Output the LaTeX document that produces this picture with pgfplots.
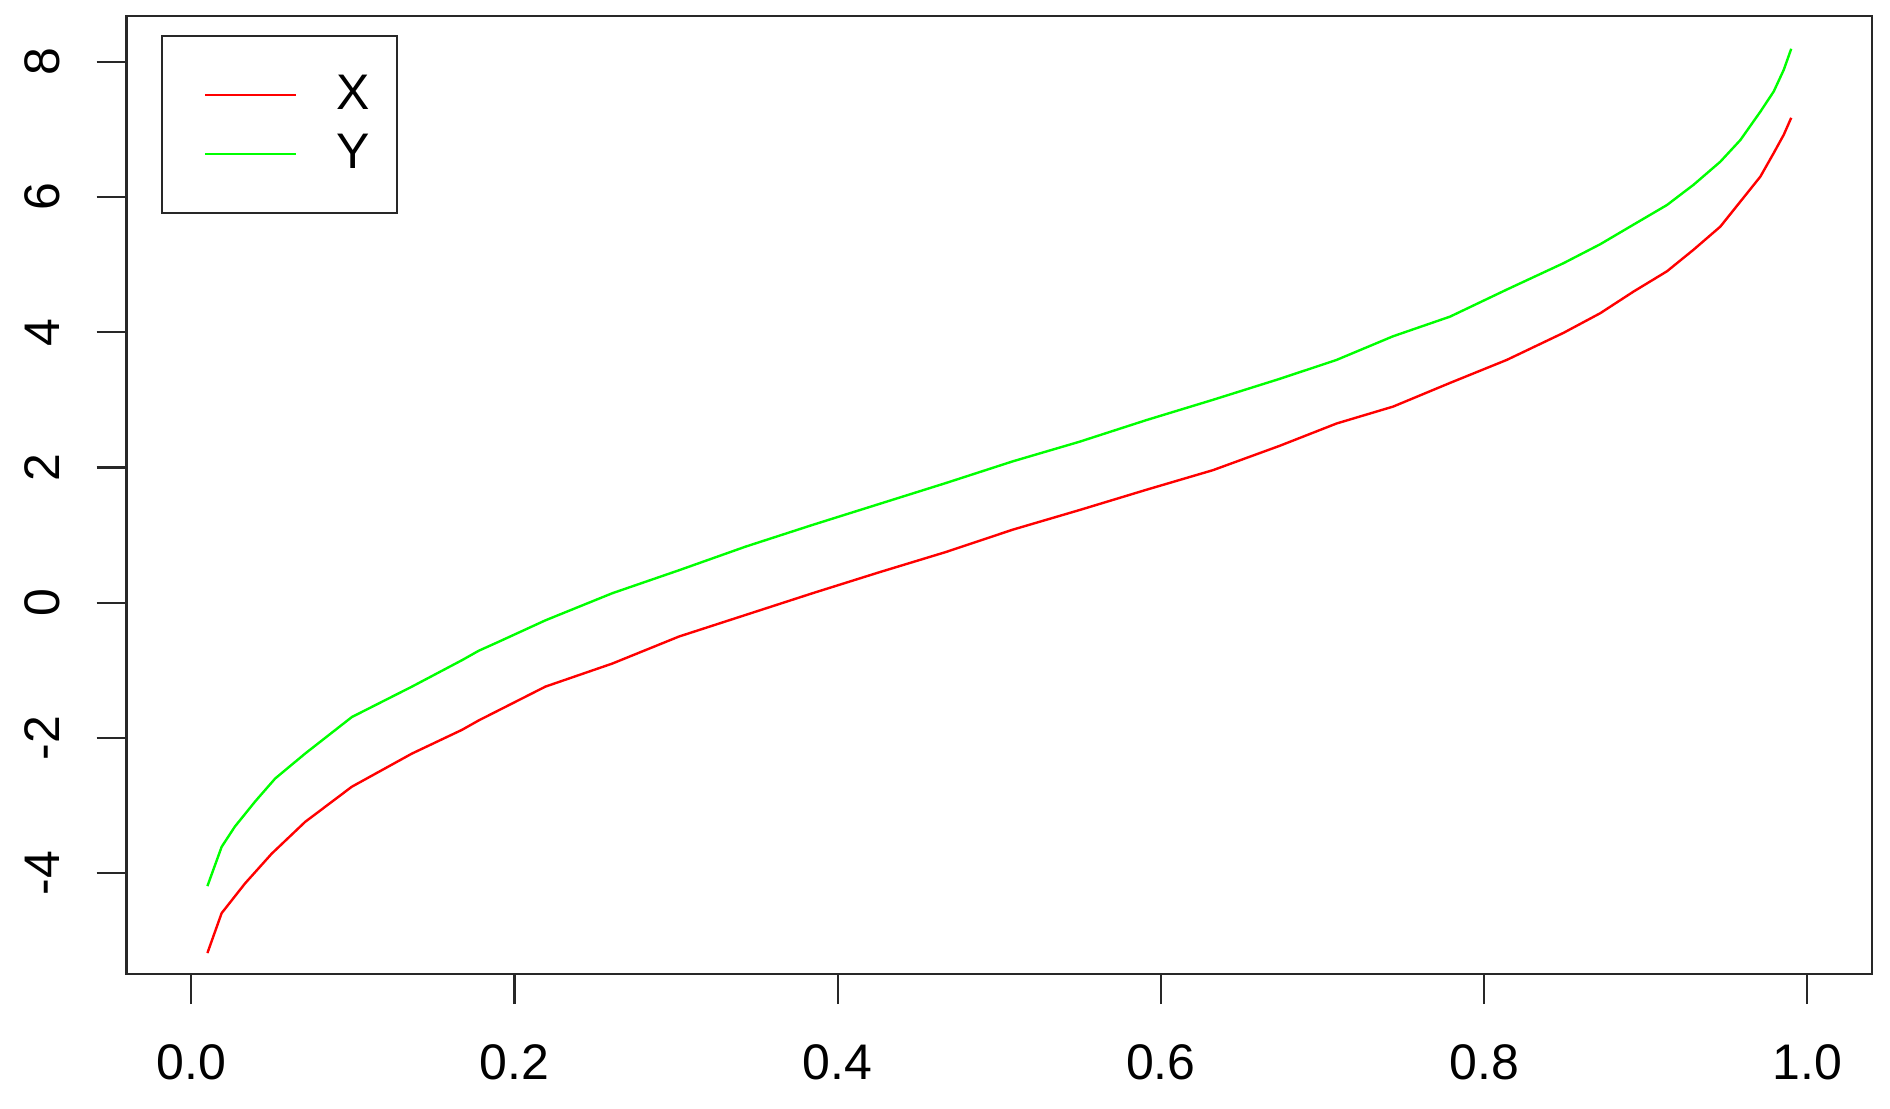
\documentclass[border=0pt]{standalone}
\usepackage{fontspec}
\setmainfont{Liberation Sans}
\usepackage{pgfplots}
\pgfplotsset{compat=1.18}
\definecolor{rred}{RGB}{255,0,0}
\definecolor{rgreen}{RGB}{0,255,0}
\definecolor{boxgray}{RGB}{40,40,40}
\newcommand{\lbl}{\fontsize{12.5}{15}\selectfont}
\begin{document}
\begin{tikzpicture}
\path[use as bounding box] (-31.65pt,-33.5pt) rectangle (440.85pt,243.5pt);
\begin{axis}[
  at={(0pt,0pt)}, anchor=south west,
  scale only axis,
  width=436.35pt, height=239.6pt,
  xmin=-0.04, xmax=1.04,
  ymin=-5.49, ymax=8.68,
  xtick={0,0.2,0.4,0.6,0.8,1},
  xticklabels={0.0,0.2,0.4,0.6,0.8,1.0},
  ytick={-4,-2,0,2,4,6,8},
  yticklabels={-4,-2,0,2,4,6,8},
  tick pos=left,
  tick align=outside,
  major tick length=7.5pt,
  tick style={boxgray, line width=0.55pt},
  axis line style={boxgray, line width=0.55pt},
  tick label style={font=\lbl},
  yticklabel style={rotate=90, anchor=south},
  yticklabel shift=5.7pt,
  xticklabel shift=6.5pt,
  legend cell align=left,
  legend image code/.code={\path[draw=none] (0pt,0pt) -- (43.5pt,0pt); \draw[#1] (10.8pt,0pt) -- (33.5pt,0pt);},
  legend style={at={(0.0197,0.98)}, anchor=north west,
    draw=boxgray, line width=0.55pt,
    inner xsep=0pt, inner ysep=7.35pt,
    column sep=0pt, row sep=0pt,
    font=\lbl,
    nodes={inner sep=0pt, minimum height=14.8pt, text width=15.2pt, align=left}},
]
\addplot[rred, line width=0.6pt] coordinates {
(0.0100,-5.18) (0.0188,-4.59) (0.0333,-4.15) (0.0498,-3.71) (0.0705,-3.24)
(0.0994,-2.72) (0.1366,-2.23) (0.1675,-1.88) (0.1779,-1.74) (0.2192,-1.24)
(0.2605,-0.90) (0.3018,-0.50) (0.3431,-0.18) (0.3844,0.14) (0.4257,0.45)
(0.4670,0.75) (0.5083,1.08) (0.5496,1.37) (0.5910,1.67) (0.6322,1.96)
(0.6735,2.32) (0.7087,2.65) (0.7437,2.90) (0.7789,3.25) (0.8140,3.59)
(0.8491,3.99) (0.8718,4.28) (0.8924,4.60) (0.9131,4.90) (0.9296,5.22)
(0.9461,5.56) (0.9585,5.93) (0.9709,6.30) (0.9792,6.65) (0.9854,6.92)
(0.9900,7.17)
};
\addplot[rgreen, line width=0.6pt] coordinates {
(0.0100,-4.19) (0.0188,-3.61) (0.0270,-3.31) (0.0395,-2.94) (0.0519,-2.60)
(0.0705,-2.23) (0.0994,-1.69) (0.1366,-1.24) (0.1675,-0.85) (0.1779,-0.71)
(0.1900,-0.58) (0.2192,-0.26) (0.2605,0.14) (0.3018,0.48) (0.3431,0.83)
(0.3844,1.15) (0.4257,1.46) (0.4670,1.77) (0.5083,2.09) (0.5496,2.38)
(0.5910,2.70) (0.6322,3.00) (0.6735,3.31) (0.7087,3.59) (0.7437,3.94)
(0.7789,4.23) (0.8140,4.63) (0.8491,5.02) (0.8718,5.30) (0.8924,5.59)
(0.9131,5.88) (0.9296,6.18) (0.9461,6.52) (0.9585,6.84) (0.9709,7.26)
(0.9792,7.56) (0.9854,7.88) (0.9900,8.19)
};
\legend{X,Y}
\end{axis}
\end{tikzpicture}
\end{document}
